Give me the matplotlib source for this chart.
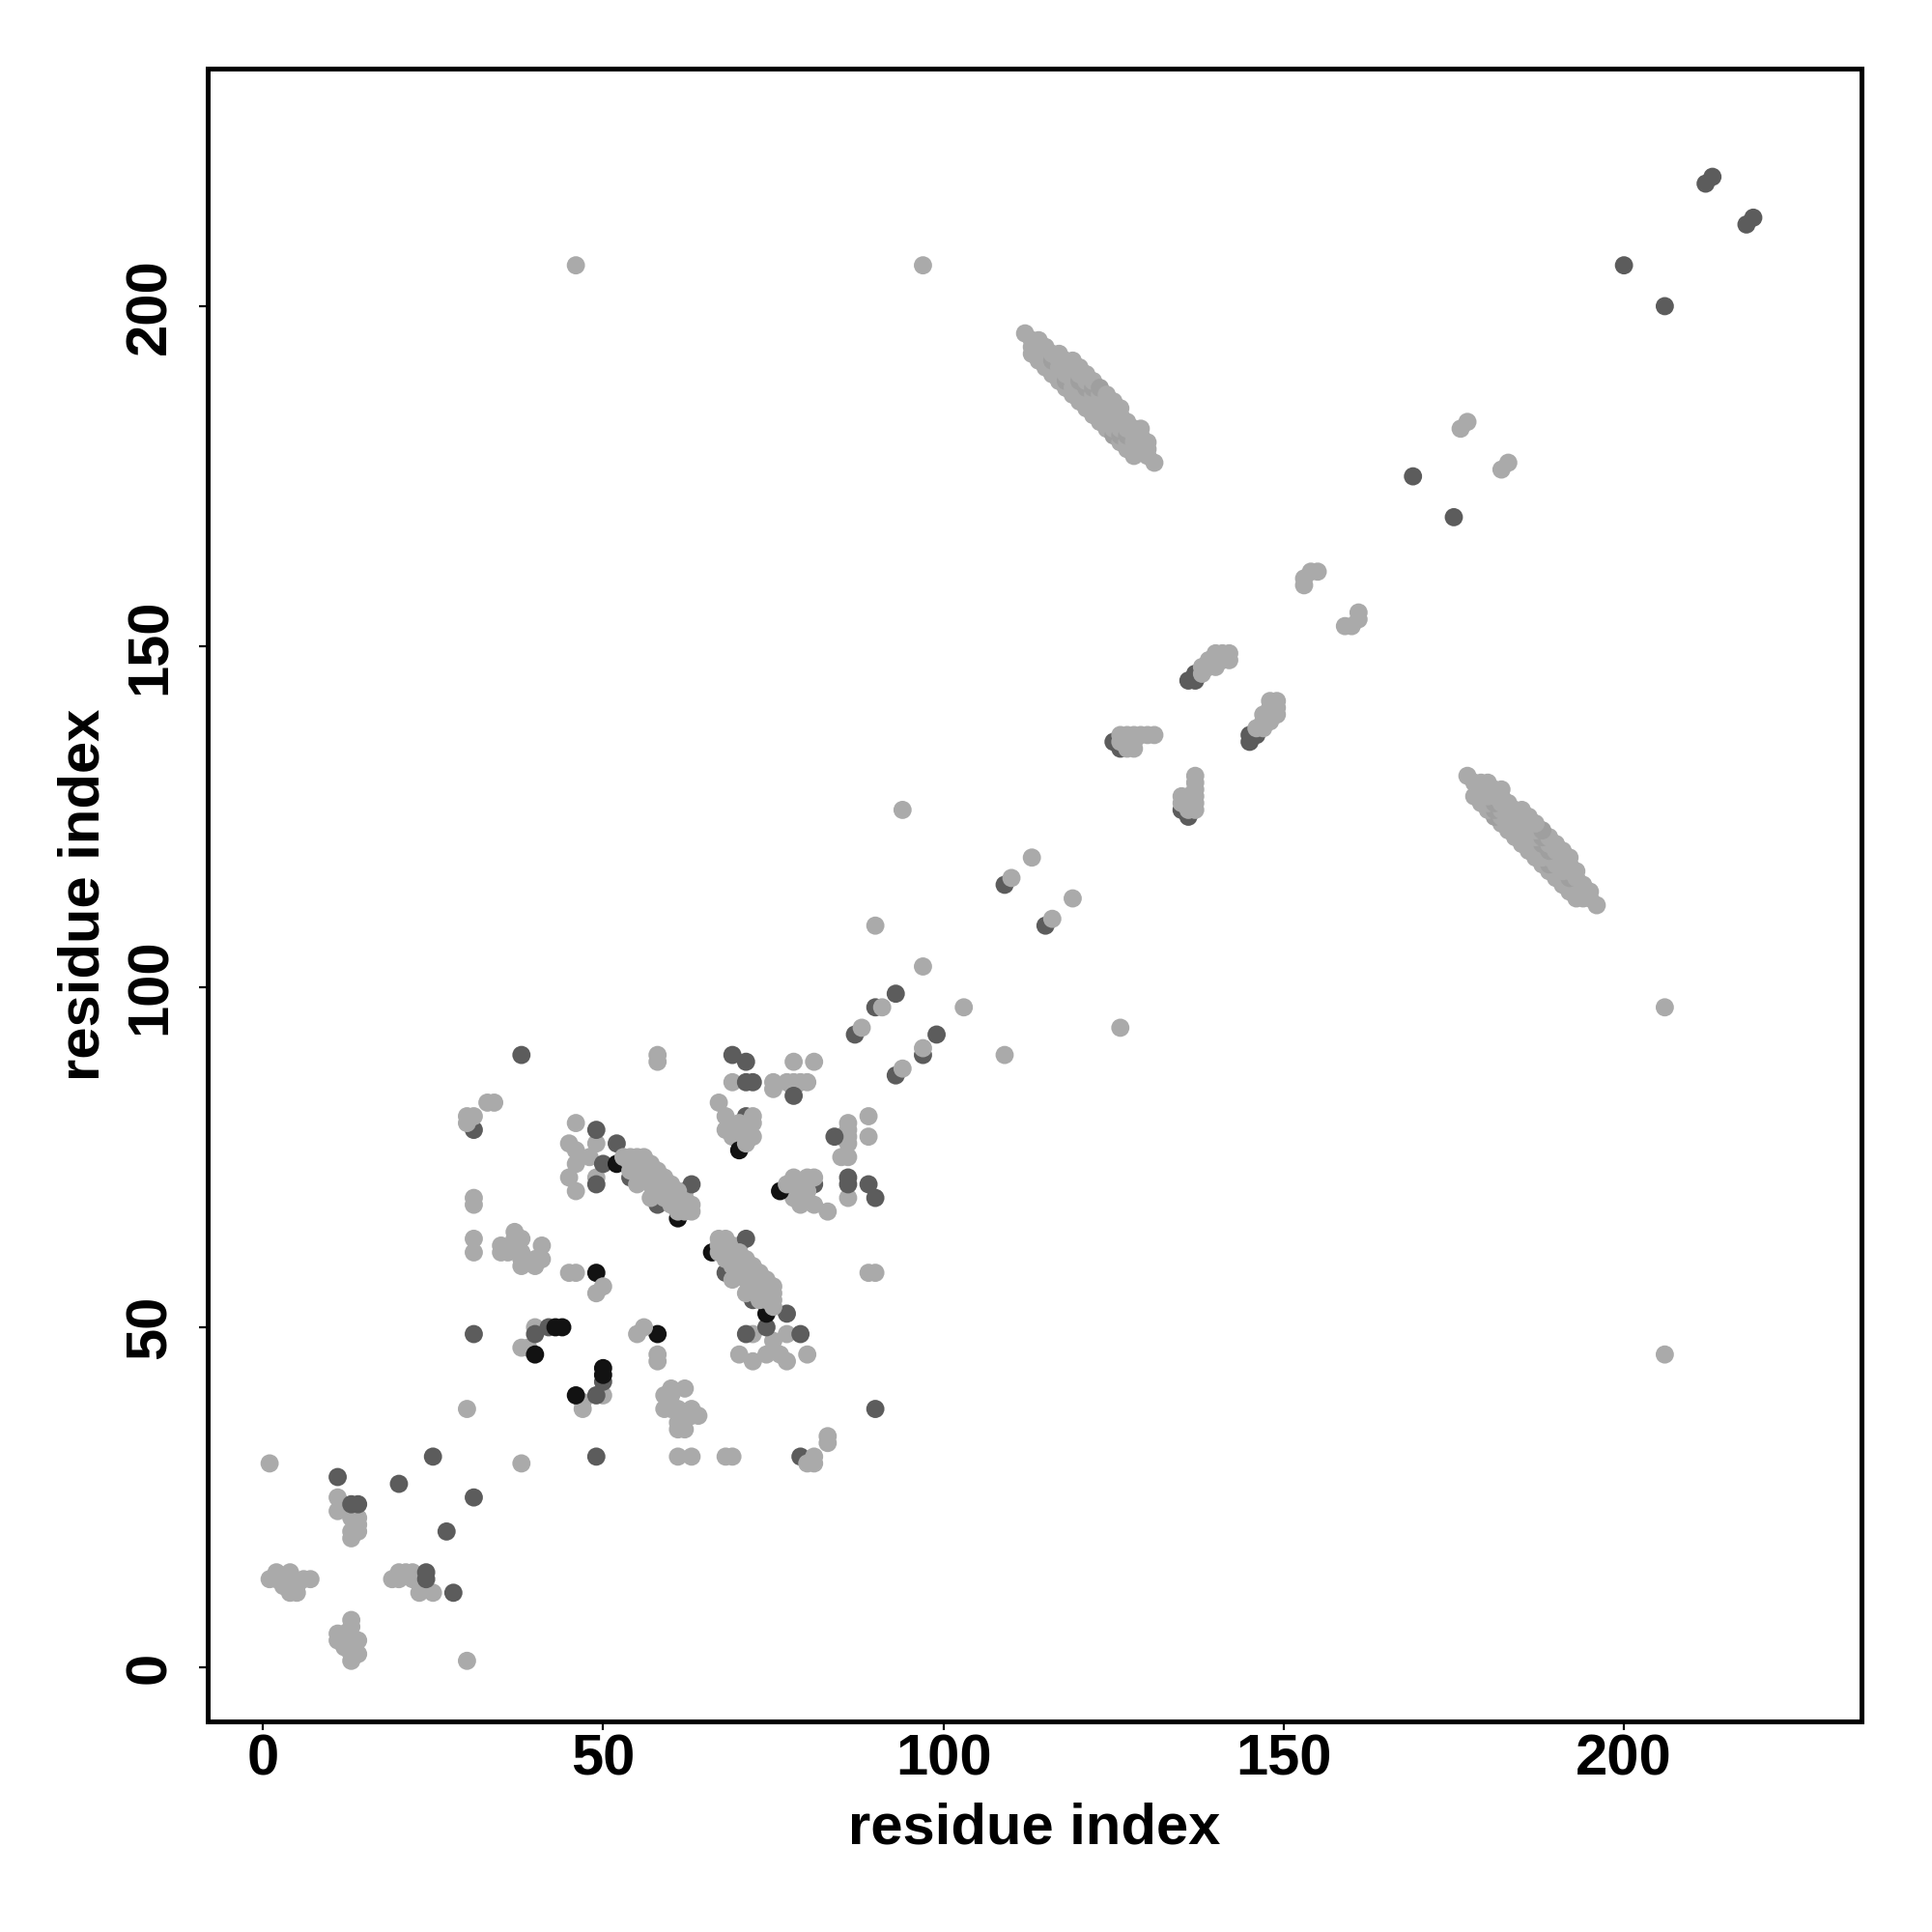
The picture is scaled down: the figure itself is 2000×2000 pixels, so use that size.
import matplotlib
matplotlib.use("Agg")
import matplotlib.pyplot as plt

# contact map: residue pairs (i < j), drawn at (i, j) and (j, i)
# shade: 0 = light gray, 1 = dark gray, 2 = black
res_i = [1, 2, 2, 3, 4, 4, 5, 5, 6, 7,
         11, 11, 13, 14, 13, 14, 13, 14, 13, 14,
         11, 20, 25, 1, 30,
         31, 31, 31, 31, 31, 31, 30, 30, 31, 33, 34, 38,
         35, 35, 36, 37, 37, 38, 38, 38, 40, 40, 41, 41, 38,
         38, 39, 40, 40, 40, 42, 43, 44,
         45, 46, 49, 50, 49,
         46, 45, 46, 49, 48, 46, 45, 46, 49, 49, 49, 50, 52, 52,
         61, 54, 58, 53, 54, 55, 54, 55, 56, 54, 55, 56, 57, 56, 57, 58, 57, 58, 59,
         58, 59, 60, 59, 60, 61, 60, 61, 62, 61, 62, 63, 62, 62, 63,
         56, 57, 58, 59, 60, 61, 63, 55, 57,
         58, 58, 69, 71, 69, 71, 72, 75, 75, 77, 78, 79, 80, 78, 78, 78, 81,
         67, 68, 71, 72, 70, 70, 72, 69, 71, 72, 70, 71, 68,
         87, 88, 90, 91, 93, 97, 90, 94,
         109, 110, 113,
         125, 126, 126, 127, 128, 129, 130, 131, 127, 128, 126, 128,
         136, 137, 137, 138, 138, 139, 139, 140, 140, 141, 142, 141, 142, 140,
         153, 153, 154, 155, 169, 176, 177, 200, 212, 213, 46, 97]
res_j = [13, 13, 14, 12, 11, 14, 11, 12, 13, 13,
         23, 25, 22, 22, 20, 21, 19, 20, 24, 24,
         28, 27, 31, 30, 38,
         49, 61, 63, 68, 69, 79, 80, 81, 81, 83, 83, 90,
         61, 62, 61, 63, 64, 63, 60, 59, 59, 60, 60, 62, 61,
         47, 47, 46, 50, 49, 50, 50, 50,
         58, 58, 58, 56, 55,
         80, 77, 76, 77, 75, 74, 72, 70, 72, 71, 79, 74, 74, 77,
         66, 72, 68, 75, 75, 75, 74, 74, 74, 73, 73, 73, 73, 72, 72, 72, 71, 71, 71,
         70, 70, 70, 69, 69, 69, 68, 68, 68, 67, 67, 67, 69, 70, 71,
         75, 74, 73, 72, 71, 70, 68, 71, 69,
         89, 90, 90, 89, 86, 86, 86, 86, 85, 86, 86, 86, 86, 85, 84, 89, 89,
         83, 81, 81, 81, 80, 79, 80, 78, 78, 78, 76, 77, 79,
         93, 94, 97, 97, 99, 103, 109, 126,
         115, 116, 119,
         136, 135, 137, 137, 137, 137, 137, 137, 135, 135, 136, 136,
         145, 145, 146, 146, 147, 147, 148, 148, 149, 149, 149, 148, 148, 147,
         159, 160, 161, 161, 175, 182, 183, 206, 218, 219, 206, 206]
shade = [0, 0, 0, 0, 0, 0, 0, 0, 0, 0,
         0, 0, 0, 0, 0, 0, 0, 0, 1, 1,
         1, 1, 1, 0, 0,
         1, 0, 0, 0, 0, 1, 0, 0, 0, 0, 0, 1,
         0, 0, 0, 0, 0, 0, 0, 0, 0, 0, 0, 0, 0,
         0, 0, 2, 0, 1, 1, 2, 2,
         0, 0, 2, 0, 0,
         0, 0, 0, 0, 0, 0, 0, 0, 0, 1, 1, 1, 2, 1,
         2, 1, 1, 0, 0, 0, 0, 0, 0, 0, 0, 0, 0, 0, 0, 0, 0, 0, 0,
         0, 0, 0, 0, 0, 0, 0, 0, 0, 0, 0, 0, 0, 0, 1,
         0, 0, 0, 0, 0, 0, 0, 0, 0,
         0, 0, 1, 1, 0, 1, 1, 0, 0, 0, 0, 0, 0, 0, 1, 0, 0,
         0, 0, 1, 0, 0, 0, 0, 0, 0, 0, 2, 0, 0,
         1, 0, 1, 0, 1, 0, 0, 0,
         1, 0, 0,
         1, 1, 0, 0, 0, 0, 0, 0, 0, 0, 0, 0,
         1, 1, 1, 0, 0, 0, 0, 0, 0, 0, 0, 0, 0, 0,
         0, 0, 0, 0, 1, 0, 0, 1, 1, 1, 0, 0]

# antiparallel sheet between residues 112-131 and 177-196 (all light)
sheet_i = [112,
           113, 113, 113,
           114, 114, 114, 114,
           115, 115, 115, 115,
           116, 116, 116, 116,
           117, 117, 117, 117, 117,
           118, 118, 118, 118, 118,
           119, 119, 119, 119, 119, 119,
           120, 120, 120, 120, 120, 120,
           121, 121, 121, 121, 121, 121,
           122, 122, 122, 122, 122, 122,
           123, 123, 123, 123, 123, 123,
           124, 124, 124, 124, 124, 124,
           125, 125, 125, 125, 125, 125,
           126, 126, 126, 126, 126, 126,
           127, 127, 127, 127, 127,
           128, 128, 128, 128, 128,
           129, 129, 129, 129,
           130, 130, 130,
           131]
sheet_j = [196,
           193, 194, 195,
           192, 193, 194, 195,
           191, 192, 193, 194,
           190, 191, 192, 193,
           189, 190, 191, 192, 193,
           188, 189, 190, 191, 192,
           187, 188, 189, 190, 191, 192,
           186, 187, 188, 189, 190, 191,
           185, 186, 187, 188, 189, 190,
           184, 185, 186, 187, 188, 189,
           183, 184, 185, 186, 187, 188,
           182, 183, 184, 185, 186, 187,
           181, 182, 183, 184, 185, 186,
           180, 181, 182, 183, 184, 185,
           179, 180, 181, 182, 183,
           178, 179, 180, 181, 182,
           179, 180, 181, 182,
           178, 179, 180,
           177]
# slightly darker overlaps inside the sheet
sheet_shade = ['#aaaaaa'] * len(sheet_i)
for k in [14, 22, 35, 41, 48, 55, 62, 69, 76]:
    sheet_shade[k] = '#9f9f9f'

ticks = [0, 50, 100, 150, 200]
greys = ['#aaaaaa', '#5c5c5c', '#121212']

plt.rcParams['font.family'] = 'Liberation Sans'
plt.rcParams['font.weight'] = 'bold'

fig = plt.figure(figsize=(10, 10), dpi=200)
ax = fig.add_axes([0.1075, 0.109, 0.856, 0.8555])

cols = [greys[s] for s in shade]

# both halves of the symmetric map
ax.scatter(sheet_i + sheet_j, sheet_j + sheet_i, s=46, c=sheet_shade + sheet_shade, linewidths=0)
ax.scatter(res_i + res_j, res_j + res_i, s=46, c=cols + cols, linewidths=0)

ax.set_xlim(-8.1, 234.9)
ax.set_ylim(-7.9, 234.9)
ax.set_xticks(ticks)
ax.set_yticks(ticks)
ax.set_xticklabels([str(t) for t in ticks])
ax.set_yticklabels([str(t) for t in ticks], rotation=90, va='center')

for key, spine in ax.spines.items():
    spine.set_linewidth(1.8)
ax.tick_params(direction='out', length=3.4, width=0.8, labelsize=21.5)
ax.tick_params(axis='x', pad=1)
ax.tick_params(axis='y', pad=8)

ax.set_xlabel('residue index', fontsize=21.5, fontweight='bold', labelpad=6)
ax.set_ylabel('residue index', fontsize=21.5, fontweight='bold', labelpad=5)

plt.savefig('out.png', dpi=200)
